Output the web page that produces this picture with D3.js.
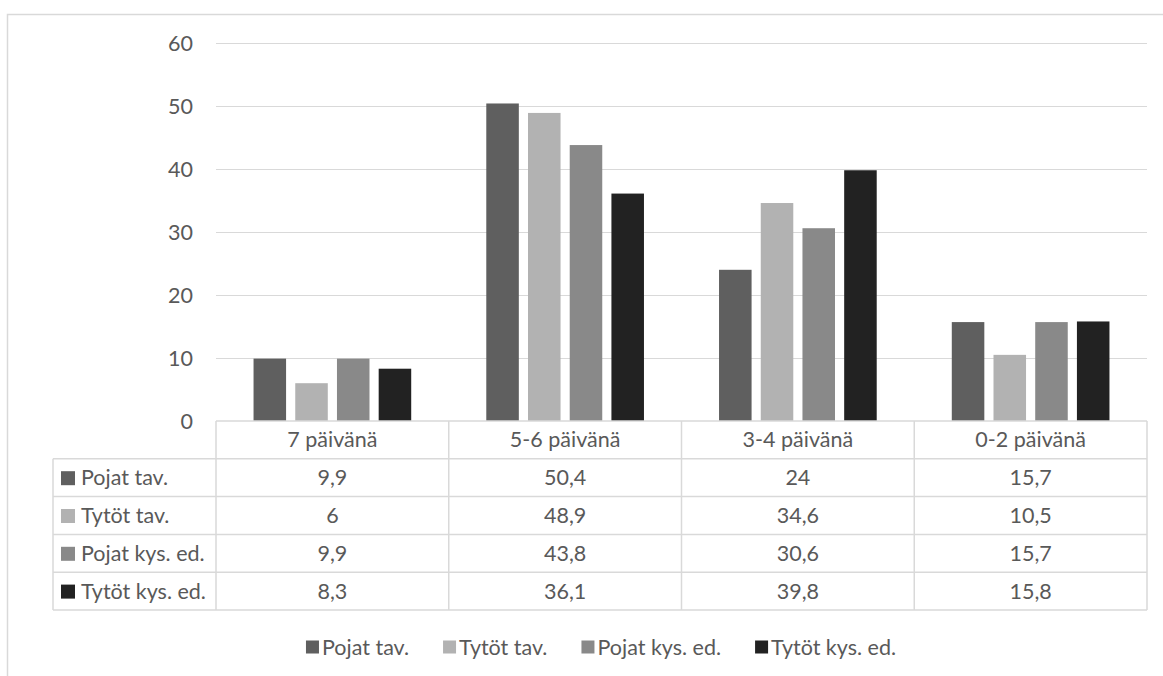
<!DOCTYPE html>
<html>
<head>
<meta charset="utf-8">
<script src="https://cdn.jsdelivr.net/npm/d3@7"></script>
<style>
  html, body { margin: 0; padding: 0; background: #fff; }
  svg { display: block; }
  text { font-family: Lato, "Open Sans", sans-serif; fill: #595959; }
</style>
</head>
<body>
<svg id="chart" width="1163" height="676"></svg>
<script>
// Categories (days per week) and series
const categories = ["7 päivänä", "5-6 päivänä", "3-4 päivänä", "0-2 päivänä"];
const seriesNames = ["Pojat tav.", "Tytöt tav.", "Pojat kys. ed.", "Tytöt kys. ed."];
const pojatTav = [9.9, 50.4, 24, 15.7];
const tytotTav = [6, 48.9, 34.6, 10.5];
const pojatKysEd = [9.9, 43.8, 30.6, 15.7];
const tytotKysEd = [8.3, 36.1, 39.8, 15.8];
const yTicks = [0, 10, 20, 30, 40, 50, 60];
const colors = ["#5f5f5f", "#b2b2b2", "#898989", "#222222"];

const seriesValues = [pojatTav, tytotTav, pojatKysEd, tytotKysEd];
const fmt = v => String(v).replace(".", ",");
const FS = "21.5px";

const svg = d3.select("#chart");
const plotLeft = 216, plotRight = 1147, plotTop = 43, plotBottom = 421;
const tableLeft = 53, rowH = 37.8;

// chart area frame
svg.append("rect")
  .attr("x", 7.5).attr("y", 14.5).attr("width", 1170).attr("height", 700)
  .attr("fill", "none").attr("stroke", "#d9d9d9").attr("stroke-width", 1.5);

const x = d3.scaleBand().domain(categories).range([plotLeft, plotRight]).paddingInner(0).paddingOuter(0);
const y = d3.scaleLinear().domain([0, 60]).range([plotBottom, plotTop]);
const inner = d3.scaleBand().domain(seriesNames).range([0, x.bandwidth()]).paddingInner(0.22).paddingOuter(0.9);

// gridlines
svg.append("g").selectAll("line").data(yTicks.filter(t => t > 0)).join("line")
  .attr("x1", plotLeft).attr("x2", plotRight)
  .attr("y1", d => Math.round(y(d)) + 0.5).attr("y2", d => Math.round(y(d)) + 0.5)
  .attr("stroke", "#d9d9d9").attr("stroke-width", 1.2);

// y tick labels
svg.append("g").selectAll("text").data(yTicks).join("text")
  .attr("x", 193).attr("y", d => y(d))
  .attr("dy", "0.35em").attr("text-anchor", "end")
  .style("font-size", FS)
  .text(d => d);

// bars
const bars = [];
seriesValues.forEach((vals, si) => vals.forEach((v, ci) => bars.push({ s: seriesNames[si], si, c: categories[ci], v })));
svg.append("g").selectAll("rect").data(bars).join("rect")
  .attr("x", d => x(d.c) + inner(d.s))
  .attr("width", inner.bandwidth())
  .attr("y", d => y(d.v))
  .attr("height", d => y(0) - y(d.v))
  .attr("fill", d => colors[d.si]);

// data table grid
const tbl = svg.append("g").attr("stroke", "#d9d9d9").attr("stroke-width", 1.5).attr("fill", "none");
const nRows = seriesNames.length;
const tableBottom = plotBottom + rowH * (nRows + 1);
tbl.append("line").attr("x1", plotLeft).attr("x2", plotRight).attr("y1", plotBottom).attr("y2", plotBottom);
d3.range(1, nRows + 2).forEach(i => {
  tbl.append("line").attr("x1", tableLeft).attr("x2", plotRight)
    .attr("y1", plotBottom + rowH * i).attr("y2", plotBottom + rowH * i);
});
tbl.append("line").attr("x1", tableLeft).attr("x2", tableLeft).attr("y1", plotBottom + rowH).attr("y2", tableBottom);
categories.forEach(c => {
  tbl.append("line").attr("x1", x(c)).attr("x2", x(c)).attr("y1", plotBottom).attr("y2", tableBottom);
});
tbl.append("line").attr("x1", plotRight).attr("x2", plotRight).attr("y1", plotBottom).attr("y2", tableBottom);

// header labels
svg.append("g").selectAll("text").data(categories).join("text")
  .attr("x", d => x(d) + x.bandwidth() / 2).attr("y", plotBottom + rowH / 2)
  .attr("dy", "0.35em").attr("text-anchor", "middle").style("font-size", FS)
  .text(d => d);

// row labels with swatches and values
seriesNames.forEach((name, si) => {
  const cy = plotBottom + rowH * (si + 1.5);
  svg.append("rect").attr("x", 61).attr("y", cy - 6.5).attr("width", 14).attr("height", 14).attr("fill", colors[si]);
  svg.append("text").attr("x", 81).attr("y", cy).attr("dy", "0.35em").style("font-size", FS).text(name);
  seriesValues[si].forEach((v, ci) => {
    svg.append("text")
      .attr("x", x(categories[ci]) + x.bandwidth() / 2).attr("y", cy)
      .attr("dy", "0.35em").attr("text-anchor", "middle").style("font-size", FS)
      .text(fmt(v));
  });
});

// legend
const legend = svg.append("g");
const legendY = 647;
const items = legend.selectAll("g").data(seriesNames).join("g");
items.append("rect").attr("x", 0).attr("y", -6.5).attr("width", 13).attr("height", 13).attr("fill", (d, i) => colors[i]);
items.append("text").attr("x", 16).attr("dy", "0.35em").style("font-size", FS).text(d => d);
let cursor = 0;
const gap = 34;
const offsets = [];
items.each(function () {
  offsets.push(cursor);
  cursor += this.getBBox().width + gap;
});
const totalW = cursor - gap;
const startX = 601 - totalW / 2;
items.attr("transform", (d, i) => `translate(${startX + offsets[i]},${legendY})`);
</script>
</body>
</html>
